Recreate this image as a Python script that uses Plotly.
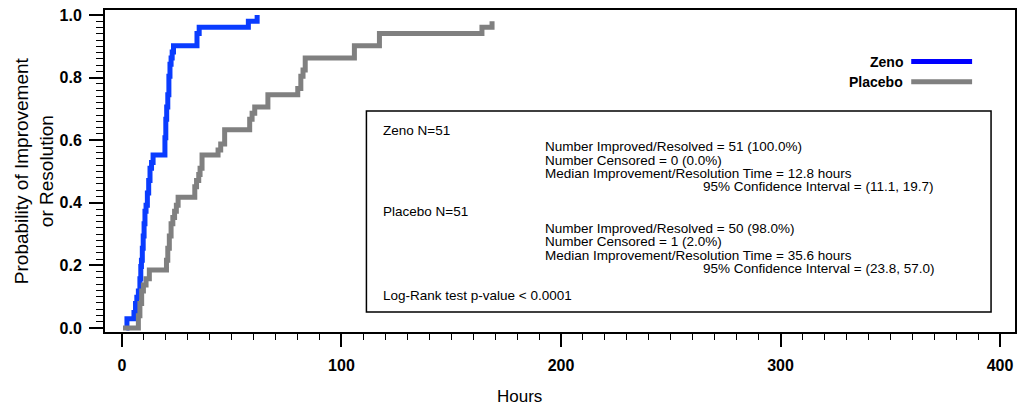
import plotly.graph_objects as go

# ---- data ----
zeno_hours = [2.0, 2.3, 5.5, 6.2, 6.8, 7.5, 8.2, 8.6, 8.9, 9.3, 9.7, 10.1, 10.5, 11.0, 11.6,
              12.2, 12.8, 13.5, 14.2, 19.6, 20.0, 20.4, 20.9, 21.4, 21.9, 22.4, 22.9, 23.5,
              34.2, 35.2, 57.6, 61.6]
zeno_prob = [0.0, 0.029, 0.049, 0.078, 0.098, 0.118, 0.157, 0.196, 0.216, 0.255, 0.294, 0.333,
             0.373, 0.392, 0.431, 0.471, 0.510, 0.529, 0.553, 0.608, 0.667, 0.706, 0.745, 0.804,
             0.843, 0.863, 0.882, 0.902, 0.941, 0.961, 0.980, 1.000]

placebo_hours = [0.5, 7.5, 8.2, 9.0, 9.8, 11.0, 12.5, 20.3, 20.9, 21.6, 22.4, 23.2, 24.0, 24.8,
                 25.6, 33.2, 34.0, 35.0, 35.6, 36.5, 43.8, 45.0, 46.8, 58.2, 59.3, 60.5, 66.5,
                 80.1, 81.5, 82.5, 83.5, 105.9, 117.3, 164.0, 168.6]
placebo_prob = [0.0, 0.039, 0.078, 0.118, 0.137, 0.157, 0.185, 0.216, 0.255, 0.294, 0.333, 0.353,
                0.373, 0.392, 0.418, 0.451, 0.471, 0.490, 0.510, 0.553, 0.569, 0.588, 0.633,
                0.667, 0.686, 0.706, 0.745, 0.765, 0.804, 0.824, 0.863, 0.902, 0.941, 0.961, 0.980]

series_names = ["Zeno", "Placebo"]
x_ticks = [0, 100, 200, 300, 400]
y_ticks = [0.0, 0.2, 0.4, 0.6, 0.8, 1.0]

stats_lines = [
    ("Zeno N=51", 0),
    ("Number Improved/Resolved = 51 (100.0%)", 1),
    ("Number Censored = 0 (0.0%)", 1),
    ("Median Improvement/Resolution Time = 12.8 hours", 1),
    ("95% Confidence Interval = (11.1, 19.7)", 2),
    ("Placebo N=51", 0),
    ("Number Improved/Resolved = 50 (98.0%)", 1),
    ("Number Censored = 1 (2.0%)", 1),
    ("Median Improvement/Resolution Time = 35.6 hours", 1),
    ("95% Confidence Interval = (23.8, 57.0)", 2),
    ("Log-Rank test p-value < 0.0001", 0),
]

# ---- layout geometry (pixels) ----
W, H = 1020, 406
L, R, T, B = 105, 3, 10, 74
PW, PH = W - L - R, H - T - B

def px(xp):
    return (xp - L) / PW

def py(yp):
    return (H - B - yp) / PH

FONT = "Liberation Sans, Arial, Helvetica, sans-serif"
BLUE = "#0a3cff"
GRAY = "#808080"

fig = go.Figure()
fig.add_trace(go.Scatter(x=zeno_hours, y=zeno_prob, mode="lines", line_shape="hv",
                         line=dict(color=BLUE, width=5), name=series_names[0],
                         showlegend=False))
fig.add_trace(go.Scatter(x=placebo_hours, y=placebo_prob, mode="lines", line_shape="hv",
                         line=dict(color=GRAY, width=5), name=series_names[1],
                         showlegend=False))

shapes = []
annotations = []

# custom legend (text left of swatch)
leg_y = [61.5, 81.7]
leg_cols = ["#0000ff", GRAY]
for name, yy, col in zip(series_names, leg_y, leg_cols):
    shapes.append(dict(type="line", xref="paper", yref="paper", x0=px(913), x1=px(974),
                       y0=py(yy), y1=py(yy), line=dict(color=col, width=5)))
    annotations.append(dict(text=name, xref="paper", yref="paper", x=px(907), y=py(yy),
                            xanchor="right", yanchor="middle", showarrow=False,
                            font=dict(family=FONT, size=14, color="black", weight="bold")))

# stats box
shapes.append(dict(type="rect", xref="paper", yref="paper", x0=px(367), x1=px(993),
                   y0=py(312), y1=py(111), line=dict(color="black", width=1.5),
                   fillcolor="rgba(0,0,0,0)"))
line_y = [130, 146.7, 160, 173.3, 186.7, 211.7, 228.3, 241.7, 255, 268.3, 295]
col_x = [383, 545, 703]
for (txt, lvl), yy in zip(stats_lines, line_y):
    annotations.append(dict(text=txt, xref="paper", yref="paper", x=px(col_x[lvl] - 1), y=py(yy),
                            xanchor="left", yanchor="middle", showarrow=False,
                            font=dict(family=FONT, size=13.5, color="black")))

# axis titles
annotations.append(dict(text="Hours", xref="paper", yref="paper", x=px(520), y=py(396),
                        xanchor="center", yanchor="middle", showarrow=False,
                        font=dict(family=FONT, size=17, color="black")))
annotations.append(dict(text="Probability of Improvement<br>or Resolution", xref="paper",
                        yref="paper", x=px(34), y=py(171), xanchor="center", yanchor="middle",
                        textangle=-90, showarrow=False,
                        font=dict(family=FONT, size=19, color="black")))

fig.update_layout(
    width=W, height=H,
    margin=dict(l=L, r=R, t=T, b=B, pad=0),
    paper_bgcolor="white", plot_bgcolor="white",
    showlegend=False,
    shapes=shapes, annotations=annotations,
    font=dict(family=FONT, color="black"),
)
fig.update_xaxes(range=[-7.7, 406.8], tickvals=x_ticks, ticktext=[str(v) for v in x_ticks],
                 showgrid=False, zeroline=False, showline=True, linecolor="black", linewidth=2,
                 mirror=True, ticks="outside", ticklen=13, tickwidth=1.5, tickcolor="black",
                 ticklabelstandoff=5,
                 tickfont=dict(family=FONT, size=16, color="black", weight="bold"),
                 minor=dict(dtick=10, tick0=0, ticks="outside", ticklen=6, tickwidth=1,
                            tickcolor="black", showgrid=False))
fig.update_yaxes(range=[-0.013, 1.016], tickvals=y_ticks, ticktext=[f"{v:.1f}" for v in y_ticks],
                 showgrid=False, zeroline=False, showline=True, linecolor="black", linewidth=2,
                 mirror=True, ticks="outside", ticklen=14, tickwidth=1.5, tickcolor="black",
                 ticklabelstandoff=4,
                 tickfont=dict(family=FONT, size=16, color="black", weight="bold"),
                 minor=dict(dtick=0.02, tick0=0, ticks="outside", ticklen=7, tickwidth=1,
                            tickcolor="black", showgrid=False))

fig.write_html("out.html", config={"displayModeBar": False},
               post_script="document.body.style.margin='0';")
